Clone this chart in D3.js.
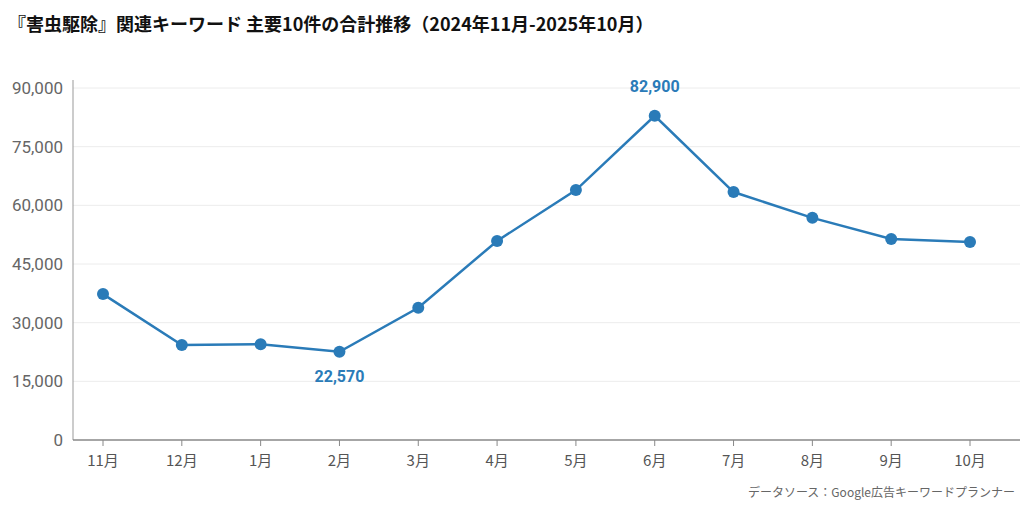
<!DOCTYPE html>
<html><head><meta charset="utf-8">
<script src="https://cdn.jsdelivr.net/npm/d3@7.9.0/dist/d3.min.js"></script>
<style>body{margin:0;background:#fff}svg{font-family:"Noto Sans CJK JP","Liberation Sans",sans-serif}</style>
</head><body><svg id="c" width="1024" height="508"></svg>
<script>
const months = ['11月','12月','1月','2月','3月','4月','5月','6月','7月','8月','9月','10月'];
const totals = [37300,24300,24500,22570,33800,50900,63900,82900,63400,56800,51400,50600];
const yTicks = [0,15000,30000,45000,60000,75000,90000];
const labelled = ['2月','6月'];

const svg = d3.select('#c');
const color = '#2a7bb8';

let x = d3.scalePoint().domain(months).range([103, 970]);
let y = d3.scaleLinear().domain([0, 90000]).range([440, 88]);

svg.append('text').attr('x', 8).attr('y', 31)
  .attr('font-size', 18).attr('font-weight', 'bold').attr('fill', '#111')
  .text('『害虫駆除』関連キーワード 主要10件の合計推移（2024年11月-2025年10月）');

// grid
svg.selectAll('line.grid').data(yTicks.slice(1)).join('line')
  .attr('x1', 73).attr('x2', 1020)
  .attr('y1', d => y(d)).attr('y2', d => y(d))
  .attr('stroke', '#ececec');

svg.selectAll('text.yt').data(yTicks).join('text')
  .attr('x', 63).attr('y', d => y(d) + 6).attr('text-anchor', 'end')
  .attr('font-size', 17).attr('fill', '#666')
  .attr('font-family', 'Roboto, sans-serif')
  .text(d => d3.format(',')(d));

svg.append('line').attr('x1', 73).attr('x2', 73).attr('y1', 80).attr('y2', 440).attr('stroke', '#999');
svg.append('line').attr('x1', 73).attr('x2', 1020).attr('y1', 440).attr('y2', 440).attr('stroke', '#888').attr('stroke-width', 1.5);

svg.selectAll('line.xt').data(months).join('line')
  .attr('x1', d => x(d)).attr('x2', d => x(d)).attr('y1', 440).attr('y2', 446).attr('stroke', '#888');
svg.selectAll('text.xl').data(months).join('text')
  .attr('x', d => x(d)).attr('y', 466).attr('text-anchor', 'middle')
  .attr('font-size', 15).attr('fill', '#555').text(d => d);

let line = d3.line().x((d, i) => x(months[i])).y(d => y(d));
svg.append('path').datum(totals).attr('d', line)
  .attr('fill', 'none').attr('stroke', color).attr('stroke-width', 2.5);

svg.selectAll('circle').data(totals).join('circle')
  .attr('cx', (d, i) => x(months[i])).attr('cy', d => y(d)).attr('r', 6).attr('fill', color);

months.forEach((m, i) => {
  if (!labelled.includes(m)) return;
  let above = totals[i] > 50000;
  svg.append('text').attr('x', x(m)).attr('y', above ? y(totals[i]) - 24 : y(totals[i]) + 30)
    .attr('text-anchor', 'middle').attr('font-size', 16).attr('font-weight', 'bold')
    .attr('font-family', 'Roboto, sans-serif')
    .attr('fill', color).text(d3.format(',')(totals[i]));
});

svg.append('text').attr('x', 1015).attr('y', 497).attr('text-anchor', 'end')
  .attr('font-size', 12).attr('fill', '#666').text('データソース：Google広告キーワードプランナー');
</script></body></html>
